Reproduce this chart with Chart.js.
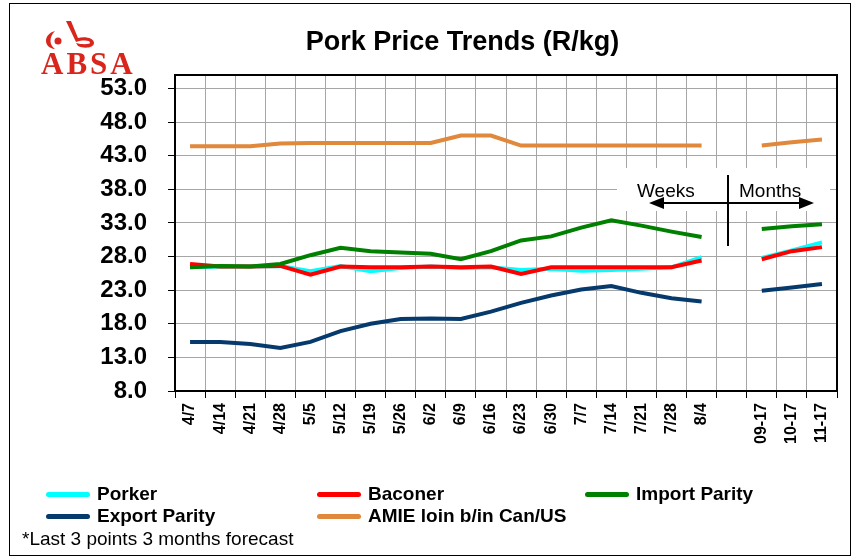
<!DOCTYPE html>
<html>
<head>
<meta charset="utf-8">
<script src="https://cdn.jsdelivr.net/npm/chart.js@4.4.0/dist/chart.umd.min.js"></script>
<style>
  body { margin: 0; background: #fff; font-family: "Liberation Sans", Arial, sans-serif; }
  #wrap { position: relative; width: 854px; height: 558px; overflow: hidden; }
  #myChart { position: absolute; left: 0; top: 0; }
  #frame { position: absolute; left: 9px; top: 3px; width: 840px; height: 551px; border: 1px solid #000; pointer-events: none; }
  #title { position: absolute; left: 280px; width: 365px; top: 26px; text-align: center; font-weight: bold; font-size: 27px; color: #000; }
  #absa { position: absolute; left: 41px; top: 46px; font-family: "Liberation Serif", serif; font-weight: bold; font-size: 31px; letter-spacing: 3px; color: #d9251c; }
  #logo { position: absolute; left: 40px; top: 18px; }
  .leg { position: absolute; display: flex; align-items: center; font-weight: bold; font-size: 19px; color: #000; white-space: nowrap; }
  .leg span.ln { display: inline-block; width: 44px; height: 5px; border-radius: 3px; margin-right: 7px; }
  #note { position: absolute; left: 22px; top: 528px; font-size: 19px; color: #000; }
</style>
</head>
<body>
<div id="wrap">
  <canvas id="myChart" width="854" height="558"></canvas>
  <div id="frame"></div>
  <svg id="logo" width="60" height="32" viewBox="0 0 60 32">
    <circle cx="18" cy="23" r="3.5" fill="#d9251c"/>
    <path d="M15 13 C3 16 3 30 15 31 C9 27 9 19 15 13 Z" fill="#d9251c"/>
    <path d="M26 3 L31 3 L38 20 C45 18 54 20 54 25 C54 30 44 31 38 28 L36 25 C43 27 50 26 50 25 C50 22 43 22 36 24 L26 3 Z" fill="#d9251c"/>
  </svg>
  <div id="absa">ABSA</div>
  <div id="title">Pork Price Trends (R/kg)</div>
  <div id="legend"></div>
  <div id="note">*Last 3 points 3 months forecast</div>
</div>
<script>
var labels = ["4/7", "4/14", "4/21", "4/28", "5/5", "5/12", "5/19", "5/26", "6/2", "6/9", "6/16",
  "6/23", "6/30", "7/7", "7/14", "7/21", "7/28", "8/4", "", "09-17", "10-17", "11-17"];
var porker = [26.4, 26.5, 26.5, 26.6, 25.8, 26.6, 25.8, 26.3, 26.5, 26.3, 26.4,
  26.0, 26.2, 25.9, 26.0, 26.2, 26.4, 27.9, null, 27.8, 28.9, 30.1];
var baconer = [26.9, 26.5, 26.5, 26.6, 25.3, 26.5, 26.4, 26.4, 26.5, 26.4, 26.5,
  25.4, 26.4, 26.4, 26.4, 26.4, 26.4, 27.4, null, 27.6, 28.8, 29.4];
var importParity = [26.4, 26.6, 26.5, 26.9, 28.2, 29.3, 28.8, 28.6, 28.4, 27.6, 28.8,
  30.4, 31.0, 32.3, 33.4, 32.6, 31.7, 30.9, null, 32.1, 32.5, 32.8];
var exportParity = [15.3, 15.3, 15.0, 14.4, 15.3, 16.9, 18.0, 18.7, 18.8, 18.7, 19.8,
  21.1, 22.2, 23.1, 23.6, 22.6, 21.8, 21.3, null, 22.9, 23.4, 23.9];
var amie = [44.4, 44.4, 44.4, 44.8, 44.9, 44.9, 44.9, 44.9, 44.9, 46.0, 46.0,
  44.5, 44.5, 44.5, 44.5, 44.5, 44.5, 44.5, null, 44.5, 45.0, 45.4];
var yTicks = [8, 13, 18, 23, 28, 33, 38, 43, 48, 53];

var seriesNames = ["Porker", "Baconer", "Import Parity", "Export Parity", "AMIE loin b/in Can/US"];
var seriesData = [porker, baconer, importParity, exportParity, amie];
var lineColors = ["#00ffff", "#ff0000", "#008000", "#063a6d", "#e0883c"];
// draw order: cyan under red
var drawOrder = [2, 1, 0, 3, 4];

var FONT = "'Liberation Sans', Arial, sans-serif";

// plot border + weeks/months note
var overlay = {
  id: "overlay",
  beforeDatasetsDraw(chart) {
    const ctx = chart.ctx;
    ctx.save();
    ctx.fillStyle = "#fff";
    ctx.fillRect(617, 168, 213, 43);
    ctx.restore();
  },
  afterDraw(chart) {
    const ctx = chart.ctx;
    const a = chart.chartArea;
    ctx.save();
    ctx.strokeStyle = "#000";
    ctx.lineWidth = 2;
    ctx.strokeRect(a.left, a.top, a.right - a.left, a.bottom - a.top);

    ctx.fillStyle = "#000";
    ctx.font = "19px " + FONT;
    ctx.textBaseline = "alphabetic";
    ctx.fillText("Weeks", 637, 197);
    ctx.fillText("Months", 739, 197);

    ctx.beginPath();
    ctx.moveTo(728, 175);
    ctx.lineTo(728, 246);
    ctx.moveTo(660, 203);
    ctx.lineTo(803, 203);
    ctx.stroke();
    ctx.beginPath();
    ctx.moveTo(649, 203); ctx.lineTo(664, 197); ctx.lineTo(664, 209); ctx.closePath();
    ctx.moveTo(814, 203); ctx.lineTo(799, 197); ctx.lineTo(799, 209); ctx.closePath();
    ctx.fill();
    ctx.restore();
  }
};

var datasets = drawOrder.map(function (i) {
  return {
    label: seriesNames[i],
    data: seriesData[i],
    borderColor: lineColors[i],
    backgroundColor: lineColors[i],
    borderWidth: 4,
    pointRadius: 0,
    tension: 0,
    spanGaps: false
  };
});

new Chart("myChart", {
  type: "line",
  data: { labels: labels, datasets: datasets },
  plugins: [overlay],
  options: {
    responsive: false,
    animation: false,
    layout: { padding: { left: 0, right: 17, top: 75, bottom: 0 } },
    plugins: { legend: { display: false }, title: { display: false }, tooltip: { enabled: false } },
    scales: {
      x: {
        offset: true,
        grid: { offset: true, color: "#a6a6a6", lineWidth: 1, tickLength: 7, tickColor: "#000" },
        border: { display: false },
        ticks: {
          autoSkip: false, maxRotation: 90, minRotation: 90, padding: 5,
          color: "#000", font: { family: FONT, size: 16, weight: "bold" }
        },
        afterFit: function (s) { s.height = 167; }
      },
      y: {
        min: 8, max: 55,
        grid: { color: "#a6a6a6", lineWidth: 1, tickLength: 7, tickColor: "#000" },
        border: { display: false },
        ticks: {
          padding: 21, color: "#000", font: { family: FONT, size: 24, weight: "bold" },
          callback: function (v) { return Number(v).toFixed(1); }
        },
        afterBuildTicks: function (s) { s.ticks = yTicks.map(function (v) { return { value: v }; }); },
        afterFit: function (s) { s.width = 175; }
      }
    }
  }
});

// legend laid out like the original (3 columns)
var legendPos = [[46, 494], [317, 494], [585, 494], [46, 516], [317, 516]];
var legend = document.getElementById("legend");
seriesNames.forEach(function (name, i) {
  var d = document.createElement("div");
  d.className = "leg";
  d.style.left = legendPos[i][0] + "px";
  d.style.top = (legendPos[i][1] - 11) + "px";
  d.innerHTML = '<span class="ln" style="background:' + lineColors[i] + '"></span>' + name;
  legend.appendChild(d);
});
</script>
</body>
</html>
